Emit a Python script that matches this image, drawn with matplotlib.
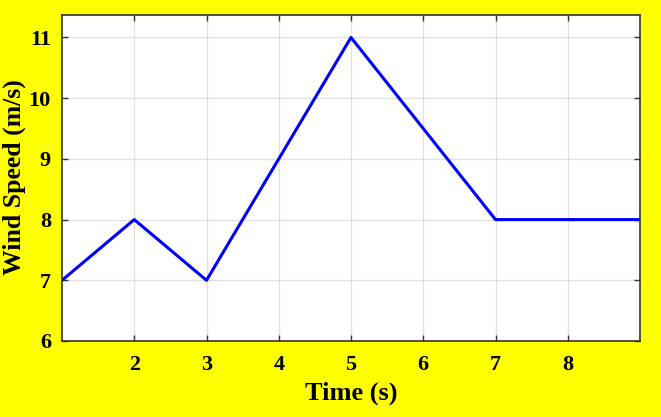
import matplotlib
matplotlib.use("Agg")
import matplotlib.pyplot as plt

time_s = [1, 2, 3, 4, 5, 6, 7, 8, 9]
wind_speed = [7, 8, 7, 9, 11, 9.5, 8, 8, 8]
x_ticks = [2, 3, 4, 5, 6, 7, 8]
y_ticks = [6, 7, 8, 9, 10, 11]

plt.rcParams['font.family'] = ['Liberation Serif', 'DejaVu Serif']
plt.rcParams['font.weight'] = 'bold'

fig = plt.figure(figsize=(6.61, 4.17), dpi=100, facecolor='#ffff00')
ax = fig.add_axes([62/661, 1 - 341/417, (640-62)/661, (341-15)/417])
ax.set_facecolor('white')
ax.plot(time_s, wind_speed, color='#0000ff', linewidth=2.2)
ax.set_xlim(1, 9)
ax.set_ylim(6, 11.37)
ax.set_xticks(x_ticks)
ax.set_yticks(y_ticks)
ax.grid(True, color='#e0e0e0', linewidth=0.9)
ax.tick_params(direction='in', top=True, right=True, length=4, width=1,
               color='#333333', labelsize=16)
ax.tick_params(axis='x', pad=10)
ax.tick_params(axis='y', pad=8)
for lab in ax.get_xticklabels() + ax.get_yticklabels():
    lab.set_fontweight('bold')
for s in ax.spines.values():
    s.set_color('#333333')
    s.set_linewidth(1.2)
ax.set_xlabel('Time (s)', fontsize=19, fontweight='bold', va='center')
ax.xaxis.set_label_coords((351-62)/578, -(393-341)/326)
ax.set_ylabel('Wind Speed (m/s)', fontsize=18.5, fontweight='bold', va='center')
ax.yaxis.set_label_coords((14-62)/578, (341-177)/326)
fig.savefig('out.png', dpi=100, facecolor=fig.get_facecolor())
